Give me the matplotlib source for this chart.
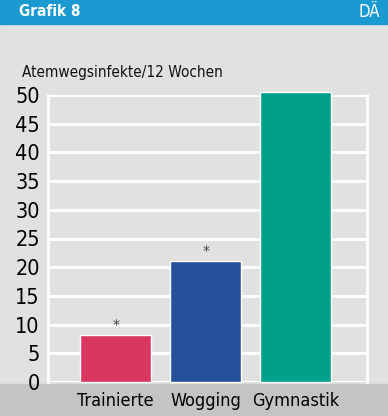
import matplotlib.pyplot as plt
from matplotlib.patches import Rectangle

groups = ['Trainierte', 'Wogging', 'Gymnastik']
infekte = [8.2, 21.1, 50.5]
signifikant = [True, True, False]
bar_colors = ['#d8365f', '#27509b', '#00a08a']
yticks = list(range(0, 55, 5))

narrow = dict(family=['DejaVu Sans'], stretch='condensed')

fig = plt.figure(figsize=(3.88, 4.16), dpi=100)
fig.patch.set_facecolor('#e1e1e1')

# header band and bottom band
fig.patches.append(Rectangle((0, 1 - 24 / 416), 1, 24 / 416, transform=fig.transFigure,
                             color='#1b9ad2', zorder=-1))
fig.patches.append(Rectangle((0, 0), 1, 32 / 416, transform=fig.transFigure,
                             color='#c4c4c4', zorder=-1))
fig.text(19 / 388, 1 - 12 / 416, 'Grafik 8', color='white', fontsize=11, fontweight='bold',
         va='center', ha='left', **narrow)
fig.text(380 / 388, 1 - 12 / 416, 'DÄ', color='white', fontsize=12,
         va='center', ha='right', **narrow)
fig.text(22 / 388, 1 - 72 / 416, 'Atemwegsinfekte/12 Wochen', fontsize=11,
         va='center', ha='left', color='#111111', **narrow)

ax = fig.add_axes([48 / 388, (416 - 382) / 416, (367 - 48) / 388, (382 - 95) / 416])
ax.set_facecolor('none')

x = range(len(groups))
ax.bar(x, infekte, width=0.79, color=bar_colors, edgecolor='white', linewidth=1,
       zorder=3, clip_on=False)
for i, sig in enumerate(signifikant):
    if sig:
        ax.text(i, infekte[i] + 0.5, '*', ha='center', va='bottom', fontsize=10, color='#444444')

ax.set_ylim(0, 50)
ax.set_xlim(-0.75, 2.79)
ax.set_yticks(yticks)
ax.set_yticklabels([str(t) for t in yticks], fontsize=15.5, **narrow)
ax.yaxis.grid(True, color='white', linewidth=2.2, zorder=1)
ax.set_axisbelow(True)
ax.tick_params(axis='y', length=0, pad=6)
ax.set_xticks(list(x))
ax.set_xticklabels(groups, fontsize=13, **narrow)
ax.tick_params(axis='x', length=0, pad=7)
for side in ['top', 'bottom']:
    ax.spines[side].set_visible(False)
for side in ['left', 'right']:
    ax.spines[side].set_color('white')
    ax.spines[side].set_linewidth(2)

fig.savefig('out.png', dpi=100, facecolor=fig.get_facecolor())
